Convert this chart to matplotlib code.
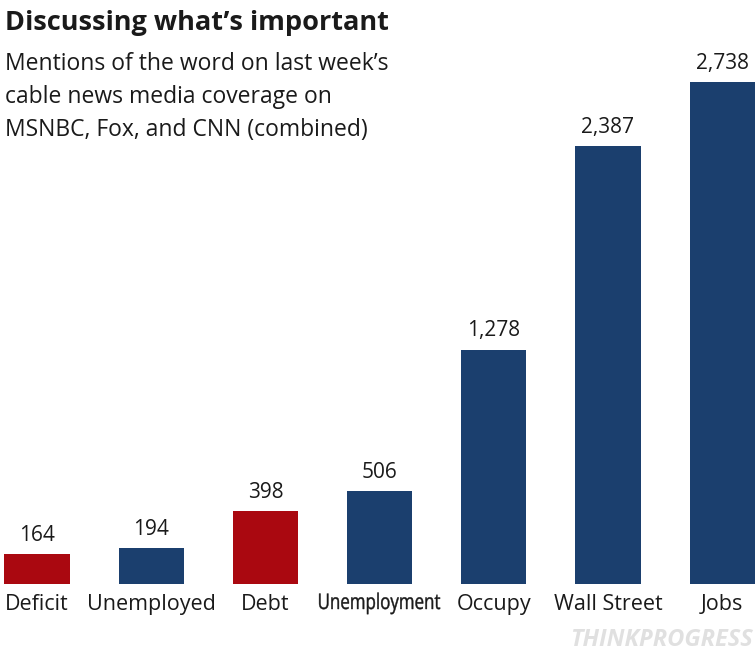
import matplotlib
matplotlib.use("Agg")
import matplotlib.pyplot as plt
from matplotlib.textpath import TextPath
from matplotlib.patches import PathPatch
from matplotlib.font_manager import FontProperties
from matplotlib.transforms import Affine2D, IdentityTransform
import numpy as np

plt.rcParams['font.family'] = ['Open Sans', 'DejaVu Sans']

words = ["Deficit", "Unemployed", "Debt", "Unemployment", "Occupy", "Wall Street", "Jobs"]
mentions = [164, 194, 398, 506, 1278, 2387, 2738]
value_labels = ["164", "194", "398", "506", "1,278", "2,387", "2,738"]
is_red = [True, False, True, False, False, False, False]
subtitle = ["Mentions of the word on last week\u2019s",
            "cable news media coverage on",
            "MSNBC, Fox, and CNN (combined)"]

RED = "#aa0810"
BLUE = "#1b3f6e"
INK = "#1a1a1a"

W, H = 755, 655
fig = plt.figure(figsize=(W / 100, H / 100), dpi=100)
fig.patch.set_facecolor("white")

# axes: bottom at baseline (584 px from top), spans full width
base_px = 584
ax = fig.add_axes([0, (H - base_px) / H, 1, base_px / H])
ax.set_facecolor("none")

x = np.arange(len(words))
colors = [RED if r else BLUE for r in is_red]
ax.bar(x, mentions, width=0.57, color=colors)

px_per_unit = 0.1834
ax.set_ylim(0, base_px / px_per_unit)
ax.set_xlim(-37 / 114.2, (W - 37) / 114.2)
ax.axis("off")

for xi, v, lab in zip(x, mentions, value_labels):
    ax.annotate(lab, (xi, v), xytext=(0, 6), textcoords="offset points",
                ha="center", va="bottom", fontsize=15, color=INK)

label_fs = 15.5
for xi, w in zip(x, words):
    if len(w) > 11:
        # the long label is squeezed sideways in the original: draw it as a
        # path and narrow it to fit the slot
        tp = TextPath((0, 0), w, size=label_fs * 100 / 72,
                      prop=FontProperties(family="Open Sans"))
        ext = tp.get_extents()
        sx = 121 / ext.width
        cx = ax.transData.transform((xi, 0))[0]
        tr = Affine2D().translate(-ext.x0 - ext.width / 2, 0).scale(sx, 1.0) \
            .translate(cx, H - 609)
        fig.add_artist(PathPatch(tp, transform=tr + IdentityTransform(),
                                 facecolor=INK, edgecolor=INK, linewidth=0.3))
        continue
    ax.annotate(w, (xi, 0), xytext=(0, -7), textcoords="offset points",
                ha="center", va="top", fontsize=label_fs, color=INK)

fig.text(5 / W, 1 - 30 / H, "Discussing what\u2019s important", fontsize=19.5,
         fontweight="bold", ha="left", va="baseline", color=INK)
for i, line in enumerate(subtitle):
    fig.text(5 / W, 1 - (70 + 33 * i) / H, line, fontsize=16.5,
             ha="left", va="baseline", color=INK)

fig.text(753 / W, 1 - 640 / H, "THINKPROGRESS", fontsize=17, style="italic",
         ha="right", va="center", color="#e0e0e0", fontweight="bold")

fig.savefig("out.png", dpi=100)
